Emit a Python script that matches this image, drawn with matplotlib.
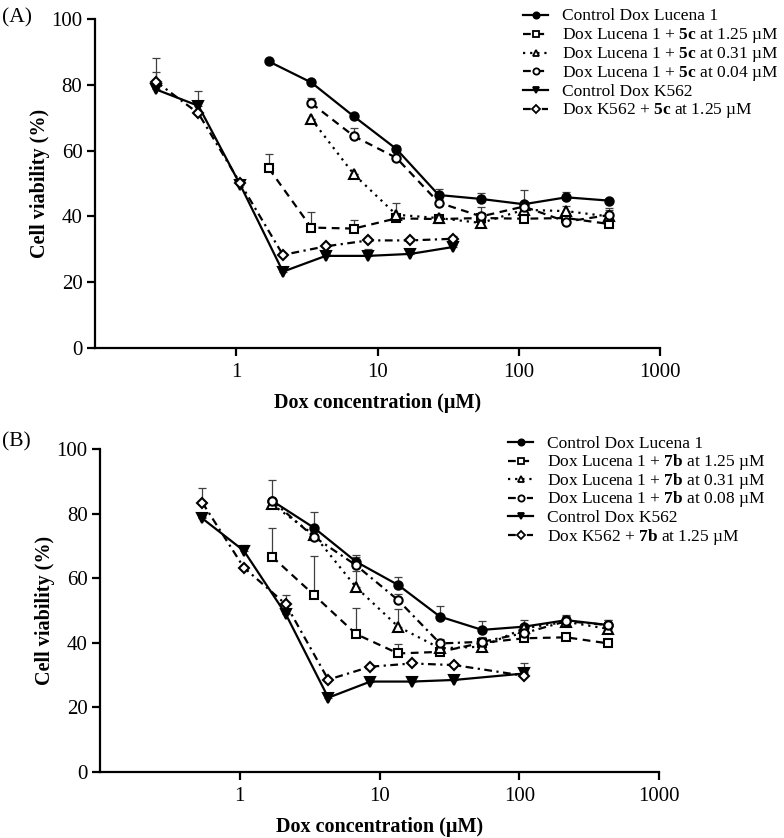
import matplotlib
import matplotlib.pyplot as plt
from matplotlib.lines import Line2D

matplotlib.use('agg')

plt.rcParams['font.family'] = ['Liberation Serif', 'DejaVu Serif']
plt.rcParams['mathtext.fontset'] = 'custom'
plt.rcParams['mathtext.rm'] = 'Liberation Serif'
plt.rcParams['mathtext.bf'] = 'Liberation Serif:bold'

W, H = 784, 838

# concentrations (uM)
luc_conc = [1.7, 3.4, 6.8, 13.6, 27.1, 54.2, 108.5, 217, 434]
luc_conc_a3 = [3.4, 6.8, 13.6, 27.1, 54.2, 108.5, 217, 434]
k562_conc_a = [0.27, 0.54, 1.07, 2.14, 4.3, 8.6, 17.1, 34.3]
k562_conc_b = [0.54, 1.07, 2.14, 4.3, 8.6, 17.1, 34.3, 108.5]

# panel A (5c)
a_ctrl_luc = [87.1, 80.7, 70.4, 60.5, 46.5, 45.3, 43.7, 45.8, 44.8]
a_ctrl_luc_err = [0, 0.5, 0.5, 0.8, 1.8, 1.8, 4.2, 1.5, 0.5]
a_sq = [54.6, 36.6, 36.3, 39.4, 39.2, 39.5, 39.3, 39.5, 37.7]
a_sq_err = [4.4, 4.6, 2.7, 0.5, 0.5, 1.0, 0.5, 0.5, 1.0]
a_tri = [69.6, 52.8, 40.5, 39.5, 38.0, 42.0, 41.6, 40.0]
a_tri_err = [0, 0, 3.5, 0.5, 5.0, 1.0, 1.5, 2.5]
a_circ = [74.4, 64.4, 57.8, 44.2, 40.0, 43.0, 38.4, 40.4]
a_circ_err = [1.5, 2.5, 0.5, 1.0, 1.0, 1.0, 0.5, 1.5]
a_ctrl_k = [78.6, 73.6, 49.5, 23.2, 28.0, 28.0, 28.6, 30.7]
a_ctrl_k_err = [9.5, 4.5, 0.5, 1.5, 0.5, 2.0, 0.5, 0.5]
a_dia = [81.0, 71.3, 50.0, 28.3, 30.9, 32.7, 32.7, 33.2]
a_dia_err = [3.0, 0.5, 0.5, 0.5, 0.5, 0.5, 0.5, 0.8]

# panel B (7b)
b_ctrl_luc = [84.0, 75.6, 65.1, 57.9, 48.1, 44.0, 45.0, 47.0, 45.5]
b_ctrl_luc_err = [6.5, 4.8, 2.0, 2.4, 3.3, 2.7, 2.0, 1.5, 1.5]
b_sq = [66.7, 54.8, 42.7, 36.7, 37.2, 40.0, 41.4, 41.7, 39.8]
b_sq_err = [8.7, 12.0, 8.2, 3.0, 1.0, 1.0, 1.0, 1.0, 1.0]
b_tri = [82.9, 73.4, 57.2, 45.0, 38.3, 38.8, 44.5, 46.5, 44.3]
b_tri_err = [0.5, 1.0, 5.0, 5.5, 1.0, 1.0, 1.0, 1.5, 1.0]
b_circ = [84.0, 72.8, 64.0, 53.2, 39.8, 40.3, 43.0, 46.7, 45.5]
b_circ_err = [0.5, 1.0, 2.5, 2.0, 1.5, 1.5, 2.5, 1.5, 1.5]
b_ctrl_k = [78.5, 68.5, 48.8, 23.0, 28.0, 28.0, 28.5, 30.5]
b_ctrl_k_err = [0.5, 1.8, 0.5, 1.5, 0.5, 1.5, 1.5, 0.5]
b_dia = [83.4, 63.3, 51.9, 28.6, 32.6, 33.6, 33.1, 29.8]
b_dia_err = [4.6, 0.5, 3.0, 0.5, 0.5, 0.5, 0.5, 4.0]

labels_a = [
    "Control Dox Lucena 1",
    r"Dox Lucena 1 + $\mathbf{5c}$ at 1.25 µM",
    r"Dox Lucena 1 + $\mathbf{5c}$ at 0.31 µM",
    r"Dox Lucena 1 + $\mathbf{5c}$ at 0.04 µM",
    "Control Dox K562",
    r"Dox K562 + $\mathbf{5c}$ at 1.25 µM",
]
labels_b = [
    "Control Dox Lucena 1",
    r"Dox Lucena 1 + $\mathbf{7b}$ at 1.25 µM",
    r"Dox Lucena 1 + $\mathbf{7b}$ at 0.31 µM",
    r"Dox Lucena 1 + $\mathbf{7b}$ at 0.08 µM",
    "Control Dox K562",
    r"Dox K562 + $\mathbf{7b}$ at 1.25 µM",
]

# marker, facecolor, linestyle, markersize
styles_a = [
    ('o', 'black', '-', 6),
    ('s', 'white', (0, (3.5, 2.5)), 6),
    ('^', 'white', (0, (1, 2.2)), 6.5),
    ('o', 'white', (0, (3.5, 2.5)), 6),
    ('v', 'black', '-', 6.5),
    ('D', 'white', (0, (3.5, 2, 1, 2)), 5),
]
styles_b = [
    ('o', 'black', '-', 6),
    ('s', 'white', (0, (3.5, 2.5)), 6),
    ('^', 'white', (0, (1, 2.2)), 6.5),
    ('o', 'white', (0, (3.5, 2, 1, 2)), 6),
    ('v', 'black', '-', 6.5),
    ('D', 'white', (0, (3.5, 2, 1, 2)), 5),
]

panel_a = [
    (luc_conc, a_ctrl_luc, a_ctrl_luc_err),
    (luc_conc, a_sq, a_sq_err),
    (luc_conc_a3, a_tri, a_tri_err),
    (luc_conc_a3, a_circ, a_circ_err),
    (k562_conc_a, a_ctrl_k, a_ctrl_k_err),
    (k562_conc_a, a_dia, a_dia_err),
]
panel_b = [
    (luc_conc, b_ctrl_luc, b_ctrl_luc_err),
    (luc_conc, b_sq, b_sq_err),
    (luc_conc, b_tri, b_tri_err),
    (luc_conc, b_circ, b_circ_err),
    (k562_conc_b, b_ctrl_k, b_ctrl_k_err),
    (k562_conc_b, b_dia, b_dia_err),
]

fig = plt.figure(figsize=(W / 100, H / 100), dpi=100)
ax_a = fig.add_axes([95 / W, 1 - 348 / H, 565 / W, 329 / H])
ax_b = fig.add_axes([100 / W, 1 - 772 / H, 559 / W, 323 / H])


def legend_rows(styles, labels, x0, y0, dy):
    # hand-placed legend, pixel positions from the top-left corner
    for i, ((mk, fc, ls, ms), lab) in enumerate(zip(styles, labels)):
        yc = y0 + i * dy
        fy = 1 - yc / H
        fig.add_artist(Line2D([x0 / W, (x0 + 12.5) / W, (x0 + 25) / W], [fy, fy, fy],
                              transform=fig.transFigure, color='black', linestyle=ls,
                              linewidth=1.6, marker=mk, markevery=[1],
                              markersize=ms * 0.75, markerfacecolor=fc,
                              markeredgecolor='black', markeredgewidth=1.3))
        fig.text((x0 + 39) / W, 1 - (yc + 5.5) / H, lab, fontsize=12.5, va='baseline')


def draw(ax, series, styles):
    for (x, y, err), (mk, fc, ls, ms) in zip(series, styles):
        ax.errorbar(x, y, yerr=[[0] * len(err), err], fmt='none', ecolor='0.25',
                    elinewidth=0.9, capsize=3, capthick=0.9, zorder=2)
        ax.plot(x, y, color='black', linestyle=ls, linewidth=1.6,
                marker=mk, markersize=ms, markerfacecolor=fc,
                markeredgecolor='black', markeredgewidth=1.5, zorder=3)

    ax.set_xscale('log')
    ax.set_xlim(0.1, 1000)
    ax.set_ylim(0, 100)
    ax.set_xticks([1, 10, 100, 1000], ['1', '10', '100', '1000'])
    ax.xaxis.set_minor_locator(matplotlib.ticker.NullLocator())
    ax.set_yticks([0, 20, 40, 60, 80, 100])
    for s in ['top', 'right']:
        ax.spines[s].set_visible(False)
    for s in ['left', 'bottom']:
        ax.spines[s].set_linewidth(1.6)
    ax.tick_params(width=1.6, length=6, labelsize=15, direction='out')
    ax.tick_params(axis='x', pad=5)
    ax.tick_params(axis='y', pad=3)
    ax.set_ylabel("Cell viability (%)", fontsize=14.5, fontweight='bold', labelpad=1)
    ax.set_xlabel("Dox concentration (µM)", fontsize=14.5, fontweight='bold', labelpad=7.5)


draw(ax_a, panel_a, styles_a)
draw(ax_b, panel_b, styles_b)
legend_rows(styles_a, labels_a, 523, 15, 18.8)
legend_rows(styles_b, labels_b, 508, 442, 18.6)

fig.text(2 / W, 1 - 22 / H, "(A)", fontsize=15.5)
fig.text(2 / W, 1 - 446 / H, "(B)", fontsize=15.5)

fig.savefig("out.png", dpi=100)
